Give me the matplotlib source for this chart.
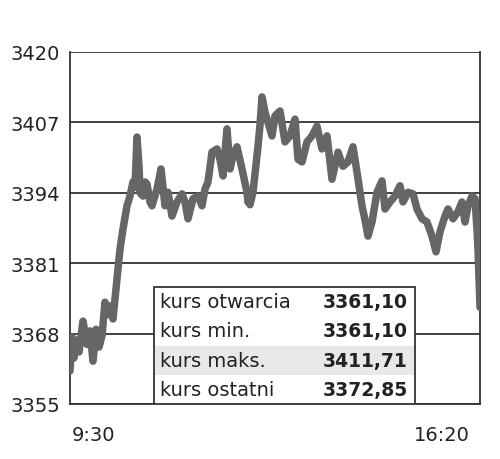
import matplotlib
matplotlib.use("Agg")
import matplotlib.pyplot as plt
from matplotlib.patches import Rectangle

# minutes after 9:30 and index level
minutes = [0, 2, 4, 6, 9, 13, 17, 20, 23, 26, 29, 32, 35, 38, 40, 43, 47, 50, 53, 57,
           60, 63, 65, 67, 69, 70, 73, 75, 77, 80, 82, 87, 91, 93, 95, 98, 102, 107, 112, 115,
           118, 123, 128, 132, 135, 138, 142, 147, 150, 153, 157, 160, 163, 167, 172, 177, 178, 180, 183, 188,
           190, 192, 195, 198, 202, 205, 210, 215, 220, 225, 228, 232, 237, 242, 247, 252, 257, 262, 268, 273,
           278, 283, 287, 292, 295, 298, 302, 307, 312, 315, 320, 325, 330, 333, 338, 343, 347, 352, 357, 362,
           366, 370, 375, 378, 383, 388, 392, 395, 398, 402, 405, 407, 408, 410]
prices = [3361.1, 3367.4, 3363.5, 3366.8, 3364.6, 3370.3, 3366.0, 3368.5, 3362.9, 3368.8,
          3365.5, 3367.6, 3373.8, 3371.5, 3373.1, 3370.7, 3378.1, 3383.6, 3387.3, 3391.6,
          3393.4, 3396.0, 3395.0, 3404.3, 3399.0, 3394.0, 3393.4, 3396.0, 3395.6, 3392.3,
          3391.6, 3394.7, 3398.4, 3395.0, 3391.6, 3394.1, 3389.7, 3392.3, 3393.8, 3392.3,
          3389.2, 3392.9, 3393.4, 3391.6, 3394.7, 3396.0, 3401.5, 3402.1, 3400.2, 3397.1,
          3405.8, 3398.4, 3400.8, 3402.5, 3398.4, 3394.1, 3392.3, 3391.8, 3394.1, 3402.6,
          3406.5, 3411.71, 3408.9, 3407.0, 3404.5, 3408.2, 3409.1, 3403.4, 3404.5, 3407.6,
          3400.2, 3399.7, 3403.4, 3404.5, 3406.3, 3402.1, 3404.5, 3396.5, 3401.5, 3398.9,
          3399.7, 3402.5, 3397.8, 3391.6, 3389.0, 3386.0, 3388.6, 3394.1, 3396.2, 3391.0,
          3392.3, 3393.4, 3395.3, 3392.3, 3394.1, 3393.8, 3391.0, 3389.2, 3388.6, 3386.0,
          3383.1, 3386.8, 3389.7, 3391.0, 3389.2, 3390.5, 3392.3, 3388.6, 3391.6, 3393.4,
          3392.9, 3387.3, 3383.6, 3372.85]

yticks = [3355, 3368, 3381, 3394, 3407, 3420]
time_labels = ["9:30", "16:20"]
stat_names = ["kurs otwarcia", "kurs min.", "kurs maks.", "kurs ostatni"]
stat_values = ["3361,10", "3361,10", "3411,71", "3372,85"]

plt.rcParams["font.family"] = ["DejaVu Sans"]
fig = plt.figure(figsize=(5, 4.6), dpi=100)
ax = fig.add_axes([0.14, 0.1196, 0.82, 0.7652])

ax.plot(minutes, prices, color="#666666", lw=5.4, solid_joinstyle="round",
        solid_capstyle="round", zorder=3)

ax.set_xlim(0, 410)
ax.set_ylim(3355, 3420)
ax.set_yticks(yticks)
ax.set_yticklabels([str(t) for t in yticks], fontsize=14, color="#222222")
ax.set_xticks([])
ax.tick_params(axis="y", length=0, pad=7)
ax.yaxis.grid(True, color="#333333", lw=1.3, zorder=1)
for side in ["left", "right", "bottom"]:
    ax.spines[side].set_color("#333333")
    ax.spines[side].set_linewidth(1.3)
ax.spines["top"].set_visible(False)

ax.text(0.005, -0.06, time_labels[0], transform=ax.transAxes, ha="left", va="top",
        fontsize=14, color="#222222")
ax.text(0.975, -0.06, time_labels[1], transform=ax.transAxes, ha="right", va="top",
        fontsize=14, color="#222222")

# stats box in the lower middle of the plot
bx0, bx1 = 0.205, 0.841
by0, by1 = 0.0, 0.332
row_h = (by1 - by0) / len(stat_names)
ax.add_patch(Rectangle((bx0, by0), bx1 - bx0, by1 - by0, transform=ax.transAxes,
                       facecolor="white", edgecolor="#333333", lw=1.3, zorder=4))
for i, (name, val) in enumerate(zip(stat_names, stat_values)):
    yc = by1 - row_h * (i + 0.5)
    if i == 2:
        ax.add_patch(Rectangle((bx0 + 0.003, by1 - row_h * (i + 1)), bx1 - bx0 - 0.006, row_h,
                               transform=ax.transAxes, facecolor="#e8e8e8", lw=0, zorder=4))
    ax.text(bx0 + 0.015, yc, name, transform=ax.transAxes, ha="left", va="center",
            fontsize=14, color="#222222", zorder=5)
    ax.text(bx1 - 0.017, yc, val, transform=ax.transAxes, ha="right", va="center",
            fontsize=13.5, fontweight="bold", color="#222222", zorder=5)

fig.savefig("out.png", dpi=100)
